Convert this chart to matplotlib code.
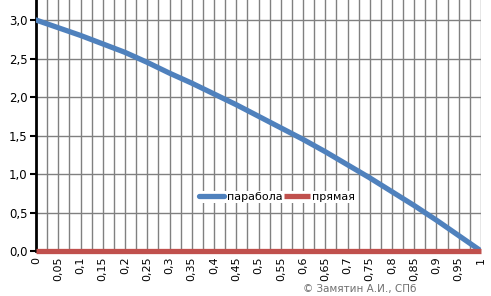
import matplotlib
matplotlib.use("Agg")
import matplotlib.pyplot as plt
import numpy as np

# values
x_vals = [0, 0.05, 0.1, 0.15, 0.2, 0.25, 0.3, 0.35, 0.4, 0.45, 0.5,
          0.55, 0.6, 0.65, 0.7, 0.75, 0.8, 0.85, 0.9, 0.95, 1]
parabola = [3.00, 2.90, 2.80, 2.69, 2.58, 2.45, 2.31, 2.18, 2.04, 1.90, 1.75,
            1.60, 1.45, 1.29, 1.12, 0.95, 0.77, 0.59, 0.40, 0.20, 0.00]
straight = [0.0] * len(x_vals)
x_labels = ["0", "0,05", "0,1", "0,15", "0,2", "0,25", "0,3", "0,35", "0,4", "0,45", "0,5",
            "0,55", "0,6", "0,65", "0,7", "0,75", "0,8", "0,85", "0,9", "0,95", "1"]
y_ticks = [0, 0.5, 1.0, 1.5, 2.0, 2.5, 3.0]
y_labels = ["0,0", "0,5", "1,0", "1,5", "2,0", "2,5", "3,0"]

fig = plt.figure(figsize=(4.91, 2.96), dpi=100)
ax = fig.add_axes([36 / 491, 1 - 251 / 296, 445 / 491, 251 / 296])

# vertical grid every category (0.025), horizontal every 0.5
for gx in np.arange(0.025, 1.0001, 0.025):
    ax.axvline(gx, color="#808080", lw=1.0, zorder=1)
for gy in y_ticks[1:]:
    ax.axhline(gy, color="#808080", lw=1.0, zorder=1)

ax.plot(x_vals, parabola, color="#4F81BD", lw=3.8, label="парабола", zorder=3,
        solid_capstyle="round")
ax.plot(x_vals, straight, color="#C0504D", lw=3.8, label="прямая", zorder=4,
        solid_capstyle="butt", clip_on=False)

ax.set_xlim(0, 1)
ax.set_ylim(0, 3.26)
ax.set_xticks(x_vals)
ax.set_xticklabels(x_labels, rotation=90, fontsize=8)
ax.set_yticks(y_ticks)
ax.set_yticklabels(y_labels, fontsize=8.5)
ax.tick_params(axis="y", length=4, width=1.5, pad=2)
ax.tick_params(axis="x", length=0, pad=4)

for s in ["top", "right", "bottom"]:
    ax.spines[s].set_visible(False)
ax.spines["left"].set_linewidth(2)
ax.spines["left"].set_color("black")

leg = ax.legend(loc="center", bbox_to_anchor=(241 / 445, 1 - 197 / 251),
                ncol=2, frameon=True, fontsize=8, handlelength=2.3,
                handletextpad=0.2, columnspacing=0.2, borderpad=0.1,
                fancybox=False)
leg.get_frame().set_facecolor("white")
leg.get_frame().set_edgecolor("none")
leg.get_frame().set_alpha(1)
leg.set_zorder(5)

fig.text(360 / 491, 1 - 289 / 296, "© Замятин А.И., СПб", fontsize=7.5,
         color="#707070", ha="center", va="center")

fig.savefig("out.png", dpi=100)
